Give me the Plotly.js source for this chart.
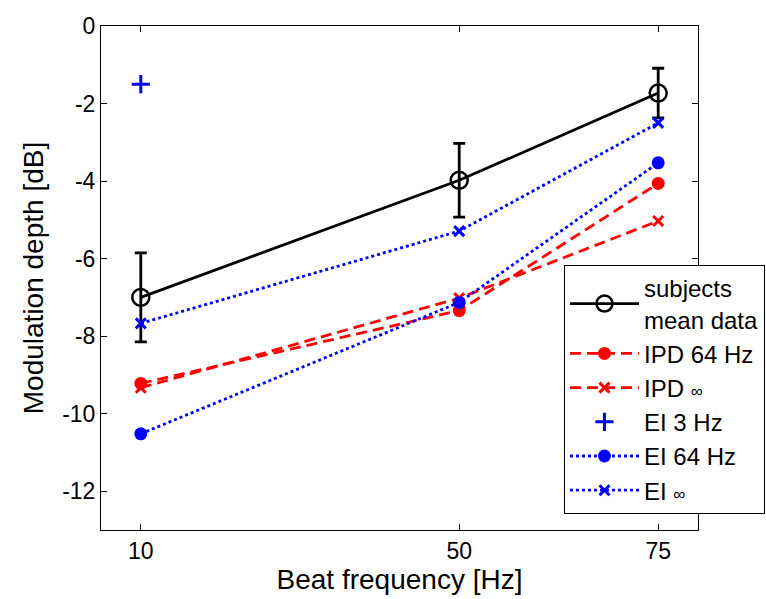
<!DOCTYPE html>
<html>
<head>
<meta charset="utf-8">
<script src="https://cdn.plot.ly/plotly-3.0.1.min.js"></script>
<style>html,body{margin:0;padding:0;background:#fff;}#chart{width:766px;height:599px;}</style>
</head>
<body>
<div id="chart"></div>
<script>
const beatFreq = [10, 50, 75];
const subjectsMean = [-7.0, -3.98, -1.73];
const subjectsErr = [1.15, 0.95, 0.64];
const ipd64 = [-9.22, -7.34, -4.06];
const ipdInf = [-9.33, -7.02, -5.03];
const ei3Freq = [10];
const ei3 = [-1.5];
const ei64 = [-10.52, -7.13, -3.53];
const eiInf = [-7.67, -5.29, -2.5];
const xTicks = [10, 50, 75];
const yTicks = [0, -2, -4, -6, -8, -10, -12];

const inf = '<span style="font-size:17px">∞</span>';
const traces = [
  {x: beatFreq, y: subjectsMean, name: 'subjects<br>mean data', mode: 'lines+markers',
   line: {color: 'black', width: 2.8},
   marker: {symbol: 'circle-open', size: 17, color: 'black', line: {width: 2.5}},
   error_y: {type: 'data', array: subjectsErr, visible: true, color: 'black', thickness: 2.8, width: 6}},
  {x: beatFreq, y: ipd64, name: 'IPD 64 Hz', mode: 'lines+markers',
   line: {color: 'red', width: 2.8, dash: '11px,6px'},
   marker: {symbol: 'circle', size: 13, color: 'red'}},
  {x: beatFreq, y: ipdInf, name: 'IPD ' + inf, mode: 'lines+markers',
   line: {color: 'red', width: 2.8, dash: '11px,6px'},
   marker: {symbol: 'x-thin-open', size: 10, color: 'red', line: {width: 3, color: 'red'}}},
  {x: ei3Freq, y: ei3, name: 'EI 3 Hz', mode: 'markers',
   marker: {symbol: 'cross-thin-open', size: 13, color: 'blue', line: {width: 3, color: 'blue'}}},
  {x: beatFreq, y: ei64, name: 'EI 64 Hz', mode: 'lines+markers',
   line: {color: 'blue', width: 2.8, dash: 'dot'},
   marker: {symbol: 'circle', size: 13, color: 'blue'}},
  {x: beatFreq, y: eiInf, name: 'EI ' + inf, mode: 'lines+markers',
   line: {color: 'blue', width: 2.8, dash: 'dot'},
   marker: {symbol: 'x-thin-open', size: 10, color: 'blue', line: {width: 3, color: 'blue'}}}
];

const layout = {
  width: 766, height: 599,
  margin: {l: 101, r: 68, t: 26, b: 69, autoexpand: false},
  paper_bgcolor: 'white', plot_bgcolor: 'white',
  font: {family: 'Liberation Sans, Arial, sans-serif', size: 23, color: 'black'},
  showlegend: true,
  legend: {x: 0.7755, y: 0.526, xanchor: 'left', yanchor: 'top',
           bgcolor: 'white', bordercolor: 'black', borderwidth: 1,
           font: {size: 24}, tracegroupgap: 0, itemwidth: 69},
  xaxis: {range: [5, 80], tickvals: xTicks, ticktext: xTicks.map(String),
          ticks: 'inside', ticklen: 6, tickcolor: 'black', showline: true, linecolor: 'black',
          linewidth: 1, mirror: 'ticks', showgrid: false, zeroline: false,
          title: {text: 'Beat frequency [Hz]', standoff: 6}},
  yaxis: {range: [-13, 0], tickvals: yTicks, ticktext: yTicks.map(String),
          ticks: 'inside', ticklen: 6, tickcolor: 'black', showline: true, linecolor: 'black',
          linewidth: 1, mirror: 'ticks', showgrid: false, zeroline: false,
          title: {text: 'Modulation depth [dB]', standoff: 10}}
};

Plotly.newPlot('chart', traces, layout, {displayModeBar: false, staticPlot: true});
</script>
</body>
</html>
